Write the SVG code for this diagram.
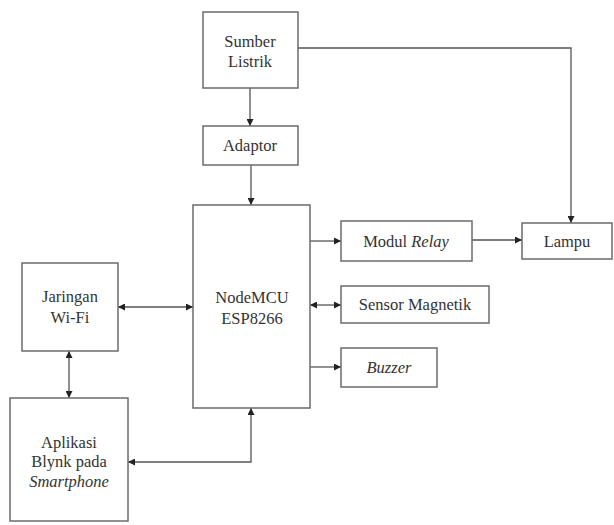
<svg xmlns="http://www.w3.org/2000/svg" width="614" height="525" viewBox="0 0 614 525">
<style>
.box{fill:#fff;stroke:#6b6b6b;stroke-width:1.5}
.t{font-size:16.5px;fill:#333;text-anchor:middle}
.i{font-style:italic}
.c{fill:none;stroke:#555;stroke-width:1.3}
</style>
<defs>
<marker id="ah" viewBox="0 0 10 10" refX="10" refY="5" markerWidth="7" markerHeight="7" markerUnits="userSpaceOnUse" orient="auto-start-reverse">
<path d="M0,0 L10,5 L0,10 z" fill="#222"/>
</marker>
</defs>
<rect width="614" height="525" fill="#fff"/>
<g id="connectors">
<path class="c" d="M250,88 V126" marker-end="url(#ah)"/>
<path class="c" d="M251,165 V205" marker-end="url(#ah)"/>
<path class="c" d="M298,48 H571 V223" marker-end="url(#ah)"/>
<path class="c" d="M310,241 H341" marker-end="url(#ah)"/>
<path class="c" d="M310,305 H341" marker-start="url(#ah)" marker-end="url(#ah)"/>
<path class="c" d="M310,367 H341" marker-end="url(#ah)"/>
<path class="c" d="M472,240 H522" marker-end="url(#ah)"/>
<path class="c" d="M118,307 H193" marker-start="url(#ah)" marker-end="url(#ah)"/>
<path class="c" d="M69,351 V398" marker-start="url(#ah)" marker-end="url(#ah)"/>
<path class="c" d="M128,462 H251 V408" marker-start="url(#ah)" marker-end="url(#ah)"/>
</g>
<g font-family="Liberation Serif, DejaVu Serif, serif">
<g id="sumber"><rect class="box" x="203" y="12" width="95" height="76"/><text class="t" x="250" y="47">Sumber</text><text class="t" x="250" y="67">Listrik</text></g>
<g id="adaptor"><rect class="box" x="203" y="126" width="95" height="39"/><text class="t" x="250" y="151">Adaptor</text></g>
<g id="nodemcu"><rect class="box" x="193" y="205" width="117" height="203"/><text class="t" x="252" y="303">NodeMCU</text><text class="t" x="252" y="324">ESP8266</text></g>
<g id="relay"><rect class="box" x="341" y="221" width="131" height="40"/><text class="t" x="406" y="247">Modul <tspan class="i">Relay</tspan></text></g>
<g id="sensor"><rect class="box" x="341" y="286" width="148" height="37"/><text class="t" x="415" y="310">Sensor Magnetik</text></g>
<g id="buzzer"><rect class="box" x="341" y="348" width="96" height="39"/><text class="t i" x="389" y="373">Buzzer</text></g>
<g id="lampu"><rect class="box" x="522" y="223" width="90" height="36"/><text class="t" x="567" y="247">Lampu</text></g>
<g id="wifi"><rect class="box" x="22" y="263" width="96" height="88"/><text class="t" x="70" y="302">Jaringan</text><text class="t" x="70" y="323">Wi-Fi</text></g>
<g id="aplikasi"><rect class="box" x="10" y="398" width="118" height="123"/><text class="t" x="69" y="448">Aplikasi</text><text class="t" x="69" y="467">Blynk pada</text><text class="t i" x="69" y="487">Smartphone</text></g>
</g>
</svg>
